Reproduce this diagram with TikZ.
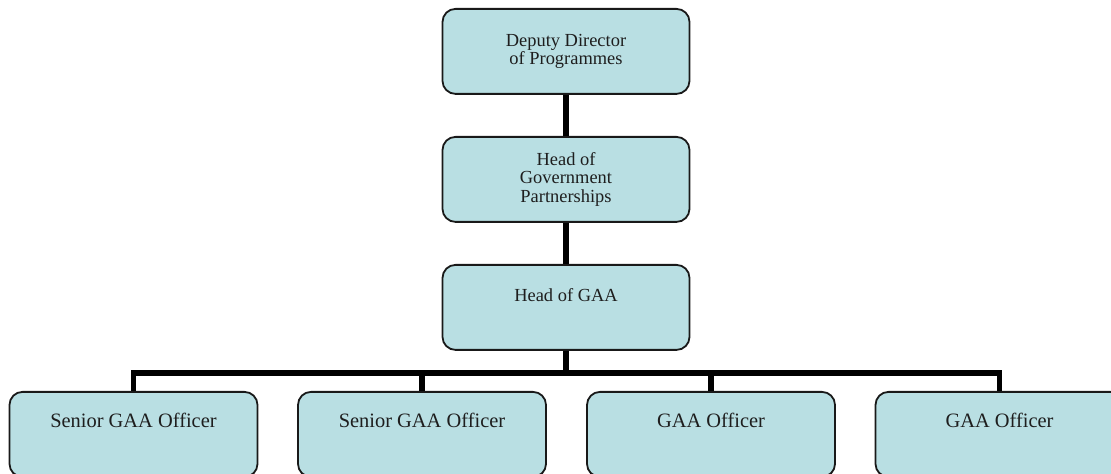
\documentclass[tikz,border=0pt]{standalone}
\usepackage{fontspec}
\setmainfont{Liberation Serif}
\definecolor{boxfill}{RGB}{185,223,227}
\definecolor{edge}{RGB}{25,25,25}
\definecolor{ink}{RGB}{30,30,30}
\begin{document}
\begin{tikzpicture}[x=1bp,y=-1bp,
  box/.style={draw=edge, line width=1.8bp, rounded corners=13bp, fill=boxfill,
    minimum width=247bp, minimum height=85bp, inner sep=0pt, anchor=north,
    text=ink, align=center},
  topfont/.style={font=\fontsize{18.5}{18.5}\selectfont},
  toponeline/.style={font=\fontsize{18.5}{18.5}\selectfont, text height=36.7bp, text depth=48.3bp},
  botfont/.style={font=\fontsize{20.5}{22}\selectfont, minimum width=248bp, text height=35.7bp, text depth=49.3bp},
  conn/.style={line width=5.5bp, draw=black, line join=miter}]
\useasboundingbox (0,0) rectangle (1111,474);
\clip (0,0) rectangle (1111,474);
\node[box, topfont] (dd) at (566,8) {Deputy Director\\of Programmes};
\node[box, topfont] (hg) at (566,136) {Head of\\Government\\Partnerships};
\node[box, toponeline] (gaa) at (566,264) {Head of GAA};
\node[box, botfont] (s1) at (133.5,391) {Senior GAA Officer};
\node[box, botfont] (s2) at (422,391) {Senior GAA Officer};
\node[box, botfont] (o1) at (711,391) {GAA Officer};
\node[box, botfont] (o2) at (999.5,391) {GAA Officer};
\coordinate (hub) at (566,373);
\draw[conn] (dd.south) -- (hg.north);
\draw[conn] (hg.south) -- (gaa.north);
\draw[conn] (gaa.south) -- (hub);
\draw[conn] (s1.north) |- (hub);
\draw[conn] (s2.north) |- (hub);
\draw[conn] (o1.north) |- (hub);
\draw[conn] (o2.north) |- (hub);
\end{tikzpicture}
\end{document}
